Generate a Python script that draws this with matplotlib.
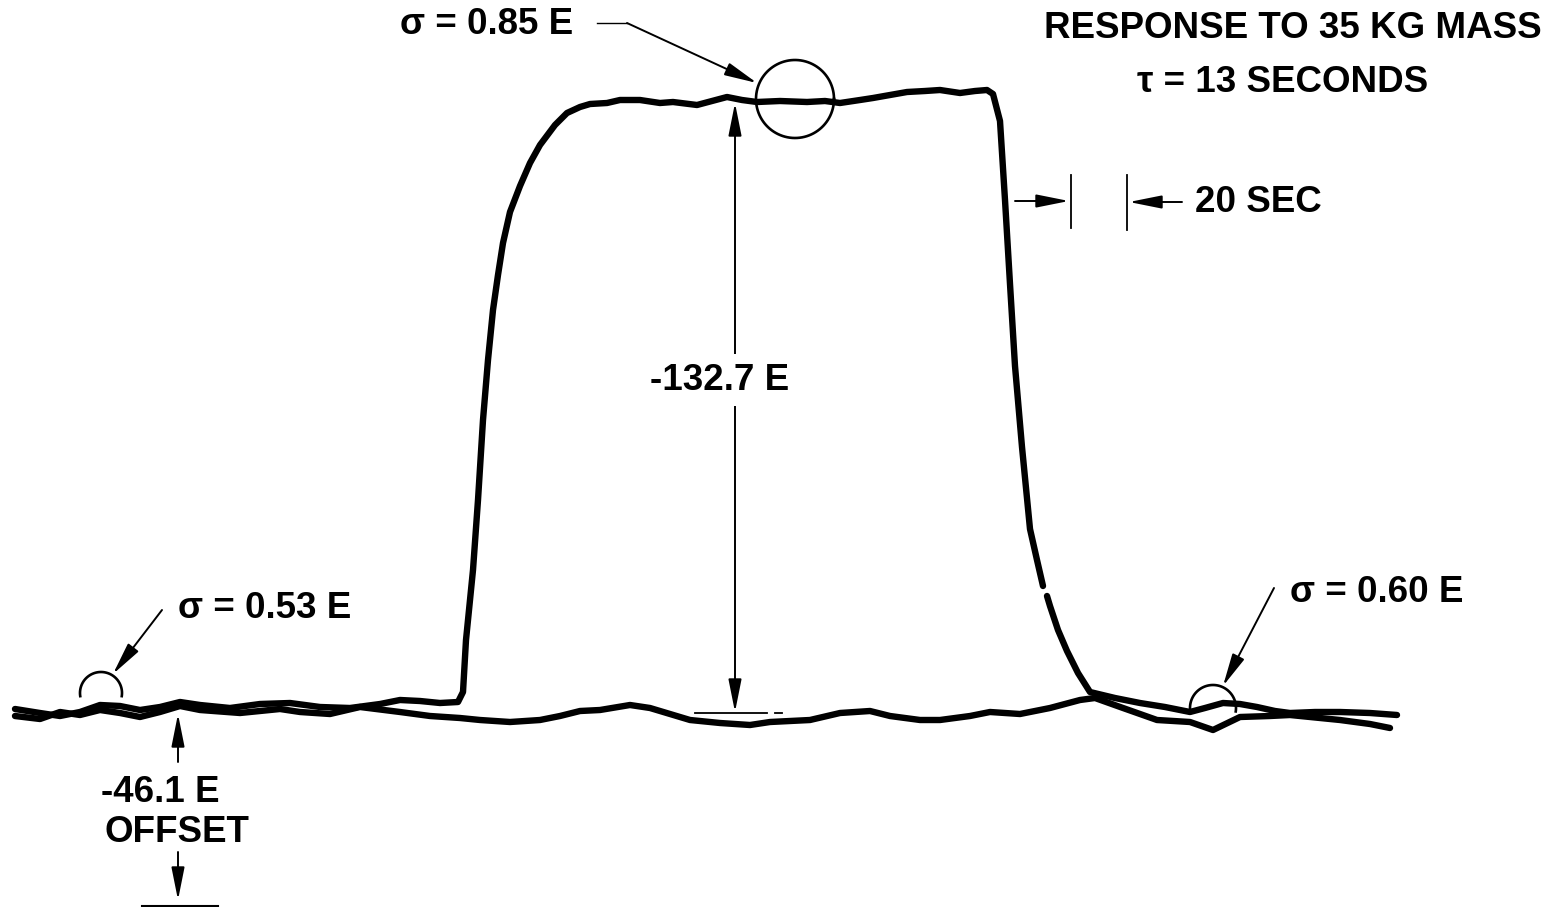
import numpy as np
import matplotlib
matplotlib.use("Agg")
import matplotlib.pyplot as plt

plt.rcParams['font.family'] = ['Liberation Sans', 'DejaVu Sans']

# recorder trace with the mass applied (plotted in chart units, y grows downward)
pulse_x = [15, 40, 60, 80, 100, 120, 140, 160, 180, 200, 230, 260, 290, 320, 350, 380, 400, 420, 440, 458,
           463, 466, 470, 473, 478, 483, 488, 493, 498, 503, 510, 520, 530, 540, 555, 567, 580, 590, 607,
           620, 640, 660, 673, 697, 712, 727, 742, 757, 780, 807, 825, 840, 860, 873, 890, 907, 925, 940,
           960, 975, 987, 993, 1000, 1005, 1010, 1015, 1022, 1030, 1037, 1043, np.nan, 1047, 1050, 1058,
           1067, 1078, 1090, 1115, 1140, 1165, 1190, 1205, 1223, 1240, 1257, 1275, 1290, 1315, 1340, 1370,
           1397]
pulse_y = [709, 713, 716, 712, 705, 706, 710, 707, 702, 705, 708, 704, 703, 707, 708, 704, 700, 701, 703, 702,
           692, 640, 600, 570, 500, 420, 360, 310, 275, 243, 212, 186, 163, 145, 125, 113, 107, 104, 103,
           100, 100, 103, 102, 105, 101, 97, 100, 102, 101, 102, 101, 103, 100, 98, 95, 92, 91, 90,
           93, 91, 90, 94, 121, 200, 284, 366, 447, 529, 560, 586, np.nan, 596, 606, 630,
           651, 673, 692, 698, 703, 707, 712, 708, 703, 704, 707, 711, 713, 712, 712, 713,
           715]

# reference (zero) trace
ref_x = [15, 40, 60, 80, 100, 120, 140, 160, 180, 200, 240, 280, 300, 330, 360, 400, 430, 460, 480, 510,
         540, 560, 580, 600, 630, 650, 670, 690, 720, 750, 770, 790, 810, 840, 870, 890, 920, 940, 970,
         990, 1020, 1050, 1080, 1095, 1123, 1157, 1190, 1213, 1240, 1270, 1290, 1340, 1370, 1390]
ref_y = [716, 719, 712, 715, 710, 713, 717, 712, 706, 710, 713, 709, 712, 714, 707, 712, 716, 718, 720, 722,
         720, 716, 711, 710, 705, 708, 714, 720, 723, 725, 722, 721, 720, 713, 711, 716, 720, 720, 716,
         712, 714, 708, 700, 698, 708, 720, 722, 730, 717, 716, 715, 720, 724, 728]

# noise circles: (centre x, centre y, radius)
sigma_top = (795, 99, 39)
sigma_left = (101, 693, 21)
sigma_right = (1213, 708, 23)

fig = plt.figure(figsize=(15.52, 9.07), dpi=100)
ax = fig.add_axes([0, 0, 1, 1])
ax.set_xlim(0, 1552)
ax.set_ylim(907, 0)
ax.axis('off')

ax.plot(ref_x, ref_y, color='black', lw=4.6, solid_capstyle='round', solid_joinstyle='round')
ax.plot(pulse_x, pulse_y, color='black', lw=4.6, solid_capstyle='round', solid_joinstyle='round')

t = np.linspace(0, 2 * np.pi, 200)
cx, cy, r = sigma_top
ax.plot(cx + r * np.cos(t), cy + r * np.sin(t), color='black', lw=1.9)
t2 = np.linspace(-0.15, np.pi + 0.15, 100)
for cx, cy, r in (sigma_left, sigma_right):
    ax.plot(cx + r * np.cos(t2), cy - r * np.sin(t2), color='black', lw=1.9)

arrow = dict(arrowstyle='-|>,head_length=1.0,head_width=0.2', color='black', lw=1.4,
             mutation_scale=20, shrinkA=0, shrinkB=0)
dbl = dict(arrowstyle='<|-|>,head_length=1.0,head_width=0.2', color='black', lw=1.4,
           mutation_scale=20, shrinkA=0, shrinkB=0)

txt = dict(fontsize=26.5, fontweight='bold', color='black')

# title block
ax.text(1542, 29, 'RESPONSE TO 35 KG MASS', ha='right', va='center', **txt)
ax.text(1283, 83, 'τ = 13 SECONDS', ha='center', va='center', **txt)

# sigma labels
ax.text(400, 25, 'σ = 0.85 E', ha='left', va='center', **txt)
ax.plot([597, 627], [23, 23], color='black', lw=1.0)
ax.annotate('', xy=(757, 83), xytext=(627, 23), arrowprops=arrow)

ax.text(178, 608, 'σ = 0.53 E', ha='left', va='center', **txt)
ax.annotate('', xy=(113, 674), xytext=(162, 610), arrowprops=arrow)

ax.text(1290, 593, 'σ = 0.60 E', ha='left', va='center', **txt)
ax.annotate('', xy=(1223, 686), xytext=(1274, 588), arrowprops=arrow)

# pulse amplitude
ax.annotate('', xy=(735, 103), xytext=(735, 712), arrowprops=dbl)
ax.plot([695, 767], [713, 713], color='black', lw=1.3)
ax.plot([775, 782], [713, 713], color='black', lw=1.3)
ax.text(720, 380, '-132.7 E', ha='center', va='center',
        bbox=dict(facecolor='white', edgecolor='none', pad=6), **txt)

# time scale
ax.plot([1071, 1071], [175, 228], color='black', lw=1.3)
ax.plot([1127, 1127], [175, 230], color='black', lw=1.3)
ax.annotate('', xy=(1069, 201), xytext=(1015, 201), arrowprops=arrow)
ax.annotate('', xy=(1129, 202), xytext=(1182, 202), arrowprops=arrow)
ax.text(1195, 203, '20 SEC', ha='left', va='center', **txt)

# offset
ax.annotate('', xy=(178, 714), xytext=(178, 762), arrowprops=arrow)
ax.text(160, 793, '-46.1 E', ha='center', va='center', **txt)
ax.text(177, 832, 'OFFSET', ha='center', va='center', **txt)
ax.annotate('', xy=(178, 900), xytext=(178, 852), arrowprops=arrow)
ax.plot([142, 218], [906, 906], color='black', lw=1.5)

fig.savefig('out.png', dpi=100, facecolor='white')
